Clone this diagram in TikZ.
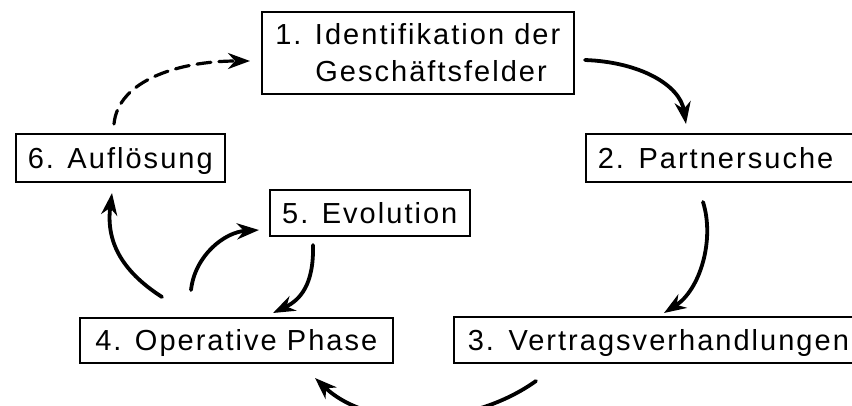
\documentclass[tikz,border=0pt]{standalone}
\usepackage{fontspec}
\setmainfont{Liberation Sans}[LetterSpace=7]
\usetikzlibrary{arrows.meta}
\begin{document}
\begin{tikzpicture}[x=1pt,y=-1pt,
  box/.style={draw, line width=1.6pt, inner xsep=12pt, inner ysep=0pt,
    text height=21pt, text depth=0pt,
    font=\fontsize{29pt}{37pt}\selectfont, anchor=north west},
  flow/.style={line width=3.8pt, line cap=round,
    -{Stealth[length=22pt,width=16pt,inset=7pt]}},
  dflow/.style={flow, dash pattern=on 14pt off 8pt, line width=3.2pt},
]
\clip (0,0) rectangle (852,405);
\fill[white] (0,0) rectangle (852,405);

\node[box, text height={}, text depth={}, inner ysep=12pt, minimum width=312pt, minimum height=81pt, align=left] (b1) at (261,11)
  {1. Identifikation der\\\hspace*{40pt}Geschäftsfelder};
\node[box, minimum height=48pt, text width=266pt, align=left] (b2) at (585,133) {2. Partnersuche};
\node[box, inner xsep=14pt, minimum height=46pt, text width=392pt, align=left] (b3) at (453,316) {3. Vertragsverhandlungen};
\node[box, minimum width=313pt, minimum height=45pt] (b4) at (79,317) {4. Operative Phase};
\node[box, minimum width=200pt, minimum height=46pt] (b5) at (269,189) {5. Evolution};
\node[box, minimum width=209pt, minimum height=48pt] (b6) at (15,133) {6. Auflösung};

\coordinate (a1s) at (114,124);  \coordinate (a1e) at (250,61);
\coordinate (a2s) at (585,60);   \coordinate (a2e) at (686,124);
\coordinate (a3s) at (703,202);  \coordinate (a3e) at (664,313);
\coordinate (a4s) at (536,381);  \coordinate (a4e) at (315,378);
\coordinate (a5s) at (313,245);  \coordinate (a5e) at (273,313);
\coordinate (a6s) at (191,290);  \coordinate (a6e) at (259,230);
\coordinate (a7s) at (162,297);  \coordinate (a7e) at (112,193);

\draw[dflow] (a1s) .. controls (118,80) and (180,61) .. (a1e);
\draw[flow] (a2s) .. controls (640,62) and (680,85) .. (a2e);
\draw[flow] (a3s) .. controls (715,240) and (700,290) .. (a3e);
\draw[flow] (a4s) .. controls (470,428) and (370,430) .. (a4e);
\draw[flow] (a5s) .. controls (314,285) and (300,300) .. (a5e);
\draw[flow] (a6s) .. controls (195,255) and (225,232) .. (a6e);
\draw[flow] (a7s) .. controls (120,270) and (106,240) .. (a7e);
\end{tikzpicture}
\end{document}
